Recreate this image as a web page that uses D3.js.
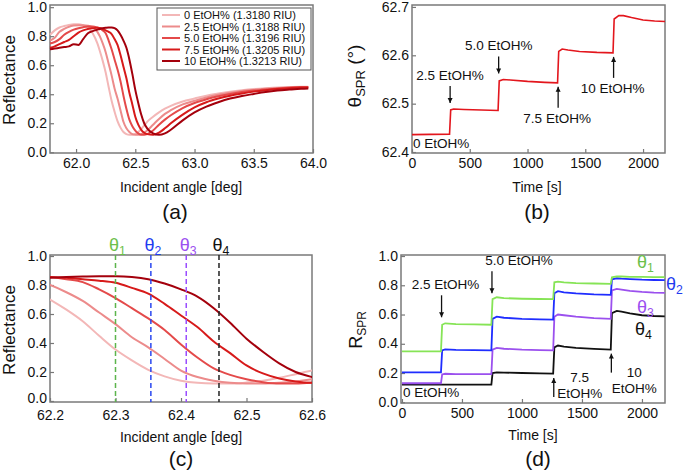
<!DOCTYPE html>
<html><head><meta charset="utf-8">
<script src="https://cdn.jsdelivr.net/npm/d3@7"></script>
<style>
body{margin:0;background:#fff;}
svg{display:block;font-family:"Liberation Sans",Arial,Helvetica,sans-serif;}
</style></head><body>
<svg id="chart" width="685" height="472"></svg>
<script>
// ---------- DATA ----------
const anglesDeg = [61.78,61.82,61.86,61.9,61.94,61.98,62.02,62.06,62.1,62.14,62.18,62.2,62.225,62.25,62.275,62.3,62.325,62.35,62.375,62.4,62.425,62.45,62.475,62.5,62.525,62.55,62.575,62.6,62.65,62.7,62.75,62.8,62.9,63.0,63.1,63.2,63.3,63.4,63.5,63.6,63.7,63.8,63.9,63.96];
const refl00 = [0.81,0.84,0.86,0.87,0.878,0.882,0.882,0.875,0.86,0.82,0.75,0.70,0.63,0.55,0.45,0.355,0.28,0.215,0.17,0.14,0.125,0.12,0.12,0.127,0.14,0.16,0.185,0.21,0.245,0.275,0.30,0.32,0.35,0.37,0.39,0.405,0.418,0.428,0.436,0.442,0.447,0.45,0.452,0.452];
const refl25 = [0.77,0.79,0.83,0.85,0.865,0.873,0.876,0.876,0.872,0.86,0.83,0.80,0.75,0.69,0.61,0.53,0.44,0.37,0.29,0.21,0.165,0.14,0.125,0.12,0.12,0.125,0.135,0.15,0.19,0.23,0.265,0.29,0.33,0.355,0.378,0.396,0.41,0.422,0.43,0.437,0.443,0.447,0.45,0.45];
const refl50 = [0.75,0.76,0.78,0.81,0.83,0.845,0.855,0.862,0.866,0.866,0.86,0.855,0.84,0.82,0.77,0.71,0.64,0.57,0.49,0.39,0.30,0.225,0.18,0.15,0.13,0.12,0.12,0.125,0.15,0.19,0.225,0.255,0.305,0.34,0.365,0.386,0.402,0.415,0.425,0.433,0.44,0.445,0.448,0.448];
const refl75 = [0.72,0.73,0.745,0.76,0.775,0.80,0.825,0.84,0.85,0.855,0.858,0.855,0.85,0.84,0.83,0.815,0.78,0.74,0.67,0.59,0.51,0.41,0.33,0.245,0.19,0.155,0.135,0.125,0.12,0.135,0.165,0.20,0.26,0.31,0.345,0.37,0.39,0.405,0.418,0.428,0.436,0.442,0.446,0.446];
const refl100 = [0.71,0.715,0.72,0.725,0.73,0.745,0.74,0.78,0.82,0.835,0.845,0.85,0.855,0.858,0.86,0.86,0.855,0.84,0.81,0.77,0.72,0.64,0.54,0.43,0.34,0.26,0.20,0.165,0.13,0.12,0.13,0.155,0.22,0.275,0.315,0.345,0.37,0.388,0.402,0.415,0.425,0.432,0.438,0.44];
const legendLabels = ["0 EtOH% (1.3180 RIU)","2.5 EtOH% (1.3188 RIU)","5.0 EtOH% (1.3196 RIU)","7.5 EtOH% (1.3205 RIU)","10 EtOH% (1.3213 RIU)"];

const timeS = [0,325,335,360,450,600,745,755,790,850,1000,1150,1260,1270,1300,1350,1450,1600,1740,1750,1790,1830,1900,2000,2100,2190];
const thetaSpr = [62.436,62.437,62.487,62.489,62.488,62.487,62.486,62.547,62.55,62.549,62.546,62.544,62.543,62.608,62.613,62.611,62.608,62.606,62.605,62.675,62.682,62.682,62.678,62.673,62.671,62.67];
const rTheta1 = [0.348,0.348,0.53,0.54,0.535,0.532,0.53,0.705,0.718,0.712,0.708,0.706,0.705,0.82,0.825,0.82,0.815,0.812,0.81,0.855,0.86,0.86,0.858,0.857,0.856,0.856];
const rTheta2 = [0.205,0.205,0.355,0.362,0.358,0.356,0.355,0.57,0.585,0.578,0.57,0.567,0.565,0.745,0.76,0.752,0.745,0.738,0.735,0.84,0.848,0.845,0.842,0.838,0.836,0.835];
const rTheta3 = [0.13,0.13,0.19,0.195,0.193,0.192,0.192,0.36,0.372,0.366,0.36,0.357,0.355,0.585,0.60,0.595,0.585,0.575,0.57,0.765,0.775,0.77,0.762,0.755,0.75,0.748];
const rTheta4 = [0.12,0.12,0.12,0.12,0.12,0.12,0.12,0.20,0.205,0.203,0.20,0.198,0.196,0.375,0.388,0.38,0.372,0.365,0.36,0.61,0.625,0.62,0.608,0.595,0.59,0.588];

const thetaMarkAngles = [62.3, 62.354, 62.408, 62.458];
const thetaNames = ["1","2","3","4"];
const stepTimes = [330, 750, 1265, 1745];
const stepLabels = ["2.5 EtOH%","5.0 EtOH%","7.5 EtOH%","10 EtOH%"];
const baseLabel = "0 EtOH%";

const xTicksA = [62.0,62.5,63.0,63.5,64.0];
const xTicksC = [62.2,62.3,62.4,62.5,62.6];
const yTicksR = [0,0.2,0.4,0.6,0.8,1.0];
const yTicksB = [62.4,62.5,62.6,62.7];
const timeTicks = [0,500,1000,1500,2000];

// ---------- STYLE ----------
const curveColors = ["#f3b7b7","#ec8b8b","#e44a4a","#d71a1a","#a4000c"];
const thetaLine = ["#86e456","#1f2dff","#9b50ee","#111111"];
const thetaDash = ["#5cb54c","#2a48f0","#9a4dff","#222222"];
const thetaText = ["#6cc04a","#1f3cf0","#9b4ff0","#111111"];
const FONT_TICK = 14, FONT_ANN = 13.5;

const svg = d3.select("#chart");
svg.append("rect").attr("width",685).attr("height",472).attr("fill","#fff");
const defs = svg.append("defs");
defs.append("marker").attr("id","arr").attr("viewBox","0 0 10 10").attr("refX",10).attr("refY",5)
  .attr("markerWidth",5).attr("markerHeight",6.5).attr("markerUnits","userSpaceOnUse").attr("orient","auto")
  .append("path").attr("d","M0,0 L10,5 L0,10 z").attr("fill","#111");

function axes(x, y, xTicks, yTicks, xFmt, yFmt, xPad, y0dy) {
  const g = svg.append("g");
  const [x0,x1] = x.range(), [yb,yt] = y.range();
  const gx = g.append("g").attr("transform",`translate(0,${yb})`)
    .call(d3.axisBottom(x).tickValues(xTicks).tickFormat(xFmt).tickSizeInner(-4).tickSizeOuter(0).tickPadding(xPad||5.5));
  const gy = g.append("g").attr("transform",`translate(${x0},0)`)
    .call(d3.axisLeft(y).tickValues(yTicks).tickFormat(yFmt).tickSizeInner(-4).tickSizeOuter(0).tickPadding(3));
  [gx,gy].forEach(a => {
    a.attr("font-family",null).attr("font-size",FONT_TICK);
    a.select(".domain").remove();
    a.selectAll(".tick line").attr("stroke","#777").attr("stroke-width",1.2);
    a.selectAll(".tick text").attr("fill","#111");
  });
  gy.selectAll(".tick text").attr("dy",(d,i)=> i===0 && y0dy!=null ? y0dy : "0.3em");
  g.append("rect").attr("x",x0).attr("y",yt).attr("width",x1-x0).attr("height",yb-yt)
    .attr("fill","none").attr("stroke","#7a7a7a").attr("stroke-width",1.5);
  return g;
}
function title(txt, x, y, size) {
  svg.append("text").attr("x",x).attr("y",y).attr("text-anchor","middle").attr("font-size",size).attr("fill","#111").text(txt);
}
function ylabel(x, y, size, parts) {
  const t = svg.append("text").attr("transform",`translate(${x},${y}) rotate(-90)`).attr("text-anchor","middle").attr("font-size",size).attr("fill","#111");
  parts.forEach(p => t.append("tspan").attr("dy",p.dy||0).attr("font-size",p.size||size).text(p.t));
}
function thetaLabel(x, y, i, size, anchor) {
  const t = svg.append("text").attr("x",x).attr("y",y).attr("text-anchor",anchor).attr("font-size",size).attr("fill",thetaText[i]);
  t.append("tspan").text("θ");
  t.append("tspan").attr("dy",4).attr("font-size",size*0.68).text(thetaNames[i]);
}
const reflSeries = [refl00, refl25, refl50, refl75, refl100];
const fmt1 = d3.format(".1f");

// ---------- PANEL A ----------
const xA = d3.scaleLinear().domain([61.78,64.0]).range([50,313]);
const yA = d3.scaleLinear().domain([-0.005,1.015]).range([153,5]);
axes(xA, yA, xTicksA, yTicksR, fmt1, fmt1);
const lineA = d3.line().x((d,i)=>xA(anglesDeg[i])).y(d=>yA(d)).curve(d3.curveMonotoneX);
reflSeries.forEach((s,i)=> svg.append("path").attr("d",lineA(s)).attr("fill","none").attr("stroke",curveColors[i]).attr("stroke-width",2));
const leg = svg.append("g");
leg.append("rect").attr("x",157).attr("y",8).attr("width",154).attr("height",62).attr("fill","#fff").attr("stroke","#555").attr("stroke-width",1);
legendLabels.forEach((l,i)=>{
  const yy = 15 + i*11.5;
  leg.append("line").attr("x1",162).attr("x2",180).attr("y1",yy).attr("y2",yy).attr("stroke",curveColors[i]).attr("stroke-width",2);
  leg.append("text").attr("x",184).attr("y",yy+4).attr("font-size",11).attr("fill","#111").text(l);
});
title("Incident angle [deg]", 181, 192, 14);
title("(a)", 175, 219, 21);
ylabel(15, 80, 17, [{t:"Reflectance"}]);

// ---------- PANEL B ----------
const xB = d3.scaleLinear().domain([0,2190]).range([412,665]);
const yB = d3.scaleLinear().domain([62.398,62.704]).range([153,5]);
axes(xB, yB, timeTicks, yTicksB, d3.format("d"), fmt1);
svg.append("path").attr("d", d3.line().x((d,i)=>xB(timeS[i])).y(d=>yB(d))(thetaSpr))
  .attr("fill","none").attr("stroke","#e3161d").attr("stroke-width",1.6);
function stepVal(series, t, after) {
  let idx = d3.bisectLeft(timeS, t);
  return after ? series[Math.min(idx+1, series.length-1)] : series[Math.max(idx-1,0)];
}
const annB = svg.append("g").attr("font-size",FONT_ANN).attr("fill","#111");
stepTimes.forEach((t,i)=>{
  const ax = xB(t);
  if (i < 2) {
    const tip = yB(stepVal(thetaSpr,t,true)) - 6;
    annB.append("line").attr("x1",ax).attr("x2",ax).attr("y1",tip-17).attr("y2",tip).attr("stroke","#111").attr("stroke-width",1.3).attr("marker-end","url(#arr)");
    annB.append("text").attr("x",ax).attr("y",tip-23).attr("text-anchor","middle").text(stepLabels[i]);
  } else {
    const tip = yB(stepVal(thetaSpr,t,false)) + 4;
    annB.append("line").attr("x1",ax).attr("x2",ax).attr("y1",tip+21).attr("y2",tip).attr("stroke","#111").attr("stroke-width",1.3).attr("marker-end","url(#arr)");
    annB.append("text").attr("x",ax-1).attr("y",tip+36).attr("text-anchor","middle").text(stepLabels[i]);
  }
});
annB.append("text").attr("x",413).attr("y",148).text(baseLabel);
title("Time [s]", 537, 192, 14);
title("(b)", 537, 219, 21);
ylabel(361, 76, 19, [{t:"θ"},{t:"SPR",size:13,dy:4},{t:" (°)",dy:-4}]);

// ---------- PANEL C ----------
const xC = d3.scaleLinear().domain([62.2,62.6]).range([50,312]);
const yC = d3.scaleLinear().domain([-0.007,1.007]).range([402,255]);
axes(xC, yC, xTicksC, yTicksR, fmt1, fmt1, 8, "0.1em");
defs.append("clipPath").attr("id","clipC").append("rect").attr("x",50).attr("y",255).attr("width",262).attr("height",147);
const lineC = d3.line().defined((d,i)=>anglesDeg[i]>=62.1 && anglesDeg[i]<=62.7).x((d,i)=>xC(anglesDeg[i])).y(d=>yC(d)).curve(d3.curveMonotoneX);
const gC = svg.append("g").attr("clip-path","url(#clipC)");
reflSeries.forEach((s,i)=> gC.append("path").attr("d",lineC(s)).attr("fill","none").attr("stroke",curveColors[i]).attr("stroke-width",2));
thetaMarkAngles.forEach((a,i)=>{
  svg.append("line").attr("x1",xC(a)).attr("x2",xC(a)).attr("y1",255).attr("y2",402)
    .attr("stroke",thetaDash[i]).attr("stroke-width",1.5).attr("stroke-dasharray","5,3");
  thetaLabel(xC(a)+2, 251, i, 18, "middle");
});
title("Incident angle [deg]", 181, 442, 14);
title("(c)", 181, 466, 21);
ylabel(15, 330, 17, [{t:"Reflectance"}]);

// ---------- PANEL D ----------
const xD = d3.scaleLinear().domain([-8,2192]).range([401,665]);
const yD = d3.scaleLinear().domain([-0.005,1.007]).range([403,255]);
axes(xD, yD, timeTicks, yTicksR, d3.format("d"), fmt1);
const rSeries = [rTheta1, rTheta2, rTheta3, rTheta4];
const lineD = d3.line().x((d,i)=>xD(timeS[i])).y(d=>yD(d));
[3,2,1,0].forEach(i => svg.append("path").attr("d",lineD(rSeries[i])).attr("fill","none").attr("stroke",thetaLine[i]).attr("stroke-width",1.8));
const annD = svg.append("g").attr("font-size",FONT_ANN).attr("fill","#111");
[0,1].forEach(i=>{
  const t = stepTimes[i], ax = xD(t);
  const tip = yD(stepVal(rTheta1,t,true)) - (i===0?6:4);
  annD.append("line").attr("x1",ax).attr("x2",ax).attr("y1",tip-22).attr("y2",tip).attr("stroke","#111").attr("stroke-width",1.3).attr("marker-end","url(#arr)");
  annD.append("text").attr("x", i===0 ? ax+4 : ax+27).attr("y",tip-28).attr("text-anchor","middle").text(stepLabels[i]);
});
[2,3].forEach(i=>{
  const t = stepTimes[i], ax = xD(t);
  const tip = i===2 ? 378 : yD(stepVal(rTheta4,t,false)) + 4;
  annD.append("line").attr("x1",ax).attr("x2",ax).attr("y1",tip+19).attr("y2",tip).attr("stroke","#111").attr("stroke-width",1.3).attr("marker-end","url(#arr)");
  const [num, unit] = stepLabels[i].split(" ");
  const cx = i===2 ? ax+26 : ax+23;
  annD.append("text").attr("x",cx).attr("y",i===2?382:377).attr("text-anchor","middle").text(num);
  annD.append("text").attr("x",cx).attr("y",i===2?398:393).attr("text-anchor","middle").text(unit);
});
annD.append("text").attr("x",403).attr("y",397).text(baseLabel);
thetaLabel(637, 268, 0, 18, "start");
thetaLabel(666, 290, 1, 18, "start");
thetaLabel(637, 313, 2, 18, "start");
thetaLabel(635, 335, 3, 18, "start");
title("Time [s]", 533, 440, 14);
title("(d)", 538, 466, 21);
ylabel(362, 330, 18, [{t:"R"},{t:"SPR",size:12,dy:4}]);
</script>
</body></html>
